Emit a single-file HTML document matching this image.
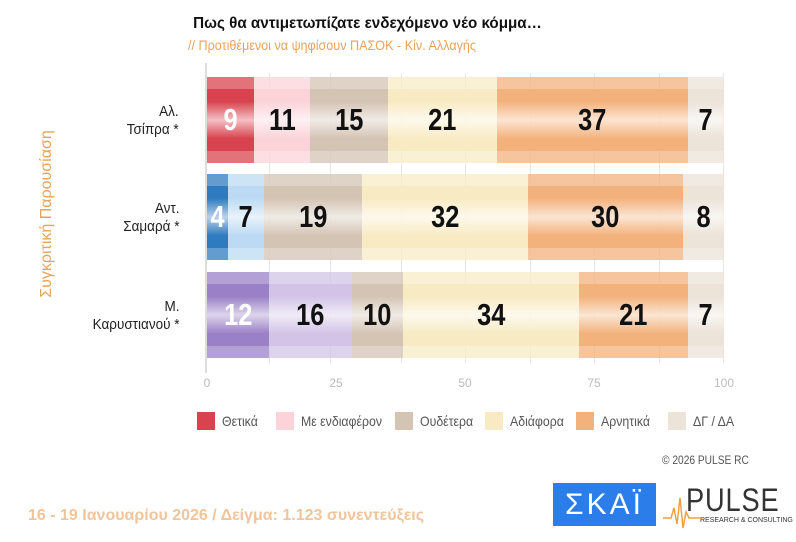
<!DOCTYPE html><html><head><meta charset="utf-8"><style>
body{margin:0;width:796px;height:542px;background:#fff;position:relative;overflow:hidden;font-family:"Liberation Sans",sans-serif}
.a{position:absolute}
.seg{position:absolute;overflow:hidden}
.seg .o{position:absolute;left:0;right:0;top:0;bottom:0;opacity:.75}
.seg .i{position:absolute;left:0;right:0;top:12px;bottom:12px}
.seg span{position:absolute;left:0;right:0;top:0;bottom:0;display:flex;align-items:center;justify-content:center;font-weight:bold;font-size:31px;color:#111}
.seg span b{display:inline-block;transform:scaleX(.82)}
.g{position:absolute;top:73px;height:290px;width:1px;background:#e6e6e6}
.lab{position:absolute;right:617px;text-align:right;font-size:15px;color:#222;line-height:18px;transform:scaleX(.9);transform-origin:right}
.tk{position:absolute;top:376px;font-size:12px;color:#bbb;width:30px;text-align:center}
.lg{position:absolute;top:412px;font-size:14px;color:#555;display:flex;align-items:center;white-space:nowrap}
.lg i{display:inline-block;width:18px;height:18px;margin-right:7px}
.lg em{font-style:normal;display:inline-block;transform:scaleX(.88);transform-origin:left}
</style></head><body>
<div class="a" style="left:183px;top:15px;width:370px;text-align:center;font-weight:bold;font-size:16px;color:#111;white-space:nowrap"><span style="display:inline-block;transform:scaleX(.95)">Πως θα αντιμετωπίζατε ενδεχόμενο νέο κόμμα…</span></div>
<div class="a" style="left:188px;top:37px;font-size:14px;color:#e8a35a;white-space:nowrap;transform:scaleX(.9);transform-origin:left">// Προτιθέμενοι να ψηφίσουν ΠΑΣΟΚ - Κίν. Αλλαγής</div>
<div class="a" style="left:-53px;top:205px;width:200px;text-align:center;font-size:16px;color:#e8a35a;white-space:nowrap;transform:rotate(-90deg)">Συγκριτική  Παρουσίαση</div>
<div class="a" style="left:205px;top:63px;width:2px;height:310px;background:#ddd"></div>
<div class="g" style="left:269px"></div><div class="g" style="left:330px"></div><div class="g" style="left:401px"></div><div class="g" style="left:465px"></div><div class="g" style="left:530px"></div><div class="g" style="left:594px"></div><div class="g" style="left:659px"></div><div class="g" style="left:723px"></div>
<div class="lab" style="top:103px">Αλ.<br>Τσίπρα *</div>
<div class="lab" style="top:200px">Αντ.<br>Σαμαρά *</div>
<div class="lab" style="top:298px">Μ.<br>Καρυστιανού *</div>
<div id="bars"></div>
<div class="tk" style="left:192px">0</div><div class="tk" style="left:321px">25</div><div class="tk" style="left:450px">50</div><div class="tk" style="left:579px">75</div><div class="tk" style="left:709px">100</div>
<div class="lg" style="left:197px"><i style="background:#d9434f"></i><em>Θετικά</em></div>
<div class="lg" style="left:276px"><i style="background:#fbd3d9"></i><em>Με ενδιαφέρον</em></div>
<div class="lg" style="left:395px"><i style="background:#d4c4b4"></i><em>Ουδέτερα</em></div>
<div class="lg" style="left:485px"><i style="background:#f8ebc4"></i><em>Αδιάφορα</em></div>
<div class="lg" style="left:576px"><i style="background:#f3b27c"></i><em>Αρνητικά</em></div>
<div class="lg" style="left:668px"><i style="background:#ece3d9"></i><em>ΔΓ / ΔΑ</em></div>
<div class="a" style="left:662px;top:453px;font-size:12px;color:#555;transform:scaleX(.85);transform-origin:left">©  2026  PULSE RC</div>
<div class="a" style="left:28px;top:507px;font-size:16px;font-weight:bold;color:#f2c49a;white-space:nowrap">16 - 19 Ιανουαρίου 2026  /  Δείγμα:  1.123 συνεντεύξεις</div>
<div class="a" style="left:553px;top:483px;width:103px;height:43px;background:#2b7de9;color:#fff;font-size:30px;display:flex;align-items:center;justify-content:center;letter-spacing:3px">ΣΚΑΪ</div>
<div class="a" style="left:686px;top:482px;font-size:32px;color:#333;letter-spacing:1px;transform:scaleX(.85);transform-origin:left">PULSE</div>
<div class="a" style="left:700px;top:517px;font-size:7px;color:#333;white-space:nowrap">RESEARCH &amp; CONSULTING</div>
<svg class="a" style="left:663px;top:490px" width="40" height="40"><polyline points="0,28 8,28 11,18 14,34 17,8 20,38 23,22 26,28 40,28" fill="none" stroke="#f0a040" stroke-width="1.5"/></svg>
<script>
var rows=[[77,[9,11,15,21,37,7],['#d9434f','#fbd3d9','#d4c4b4','#f8ebc4','#f3b27c','#ece3d9']],
[174,[4,7,19,32,30,8],['#2f7bbf','#bcdaf3','#d4c4b4','#f8ebc4','#f3b27c','#ece3d9']],
[272,[12,16,10,34,21,7],['#9a80c6','#d3c4e7','#d4c4b4','#f8ebc4','#f3b27c','#ece3d9']]];
var h='';rows.forEach(function(r){var c=0;r[1].forEach(function(v,k){var x0=207+c*5.17;c+=v;var x1=207+c*5.17;var col=r[2][k];
h+='<div class="seg" style="left:'+x0+'px;top:'+r[0]+'px;width:'+(x1-x0)+'px;height:86px"><div class="o" style="background:'+col+'"></div><div class="i" style="background:linear-gradient('+col+','+col+' 20%,rgba(255,255,255,.55) 50%,'+col+' 80%,'+col+')"></div><span style="'+(k==0?'color:#fff':'')+'"><b>'+v+'</b></span></div>';});});
document.getElementById('bars').innerHTML=h;
</script>
</body></html>
